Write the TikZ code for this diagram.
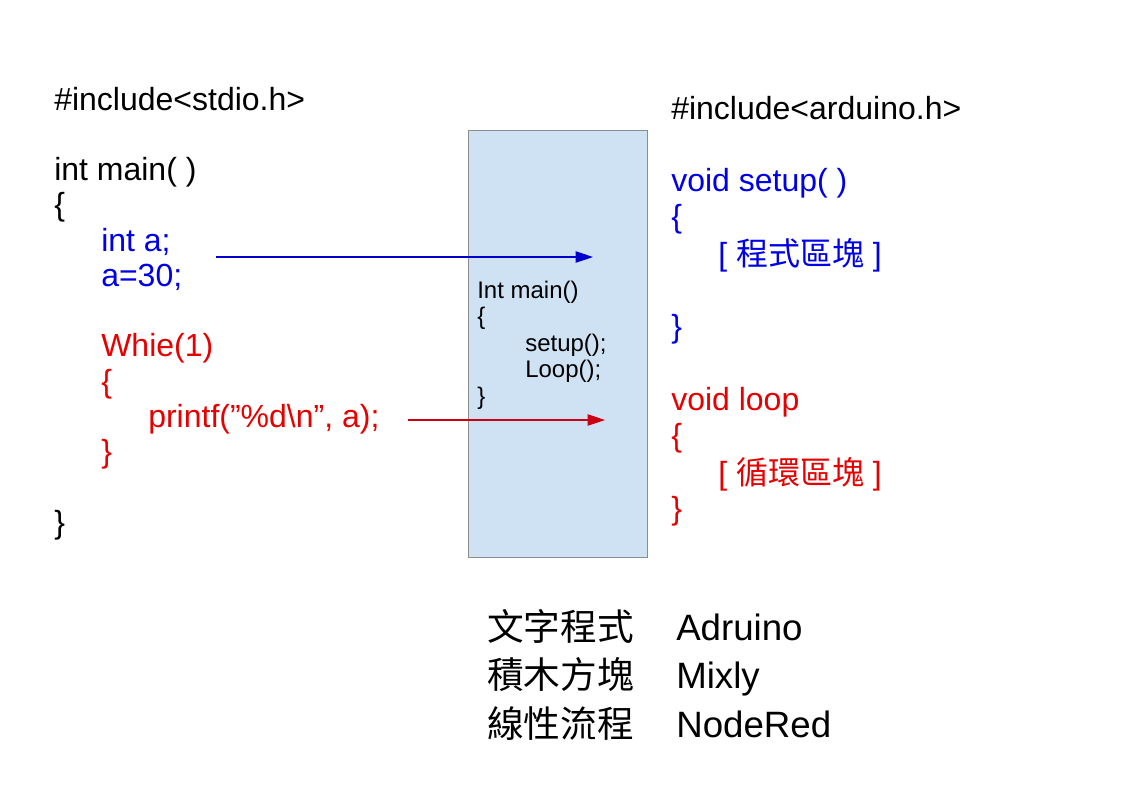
\documentclass[tikz,border=0pt]{standalone}
\usepackage{fontspec}
\setmainfont{Liberation Sans}
\newfontfamily\cjk{Noto Sans CJK TC}
\usetikzlibrary{arrows.meta}
\definecolor{boxblue}{HTML}{CFE2F3}
\definecolor{boxline}{HTML}{8C8C8C}
\definecolor{codeblue}{HTML}{0000E6}
\definecolor{codered}{HTML}{E60000}
\definecolor{arrowblue}{HTML}{0000CC}
\definecolor{arrowred}{HTML}{CC0010}

\begin{document}
\begin{tikzpicture}[x=0.75pt, y=-0.75pt]
  \tikzset{code/.style={anchor=base west, inner sep=0pt, font=\fontsize{24}{28}\selectfont},
           small/.style={anchor=base west, inner sep=0pt, font=\fontsize{18}{20}\selectfont},
           big/.style={anchor=base west, inner sep=0pt, font=\fontsize{27.5}{33}\selectfont},
           link/.style={line width=0.9pt, -{Triangle[length=13pt, width=8.5pt]}}}
  \useasboundingbox (0,0) rectangle (1123,794);
  \node[draw=boxline, fill=boxblue, line width=0.75pt, minimum width=134.25pt, minimum height=320.25pt,
        inner sep=0pt, anchor=north west] (core) at (468,130) {};
  % C program
  \node[code] (stdio) at (54,110) {\#include<stdio.h>};
  \node[code] (mainsig) at (54,180.5) {int main( )};
  \node[code] (mainopen) at (54,215.75) {\{};
  \node[code, text=codeblue] (decl) at (101,251) {int a;};
  \node[code, text=codeblue] (assign) at (101,286.25) {a=30;};
  \node[code, text=codered] (whileline) at (101,356.75) {Whie(1)};
  \node[code, text=codered] (whileopen) at (101,392) {\{};
  \node[code, text=codered] (printline) at (148,427.25) {printf(”\%d\textbackslash n”, a);};
  \node[code, text=codered] (whileclose) at (101,462.5) {\}};
  \node[code] (mainclose) at (54,533) {\}};
  % Arduino sketch
  \node[code] (ardinc) at (671,119) {\#include<arduino.h>};
  \node[code, text=codeblue] (setupsig) at (671,191) {void setup( )};
  \node[code, text=codeblue] (setupopen) at (671,227.5) {\{};
  \node[code, text=codeblue] (setupbody) at (718,265) {[ {\cjk 程式區塊} ]};
  \node[code, text=codeblue] (setupclose) at (671,337) {\}};
  \node[code, text=codered] (loopsig) at (671,410) {void loop};
  \node[code, text=codered] (loopopen) at (671,446.5) {\{};
  \node[code, text=codered] (loopbody) at (718,484) {[ {\cjk 循環區塊} ]};
  \node[code, text=codered] (loopclose) at (671,519.5) {\}};
  % hidden main
  \node[small] (coresig) at (477,298) {Int main()};
  \node[small] (coreopen) at (477,324.5) {\{};
  \node[small] (callsetup) at (525,351) {setup();};
  \node[small] (callloop) at (525,377.5) {Loop();};
  \node[small] (coreclose) at (477,404) {\}};
  % arrows
  \coordinate (varsout) at (216,257);
  \coordinate (setupin) at (593,257);
  \coordinate (printout) at (408,420);
  \coordinate (loopin) at (605,420);
  \draw[link, arrowblue] (varsout) -- (setupin);
  \draw[link, arrowred] (printout) -- (loopin);
  % tools
  \node[big] (textcjk) at (487,640) {\cjk 文字程式};
  \node[big] (textname) at (676,640) {Adruino};
  \node[big] (blockcjk) at (487,688.5) {\cjk 積木方塊};
  \node[big] (blockname) at (676,688.5) {Mixly};
  \node[big] (flowcjk) at (487,737) {\cjk 線性流程};
  \node[big] (flowname) at (676,737) {NodeRed};
\end{tikzpicture}
\end{document}
